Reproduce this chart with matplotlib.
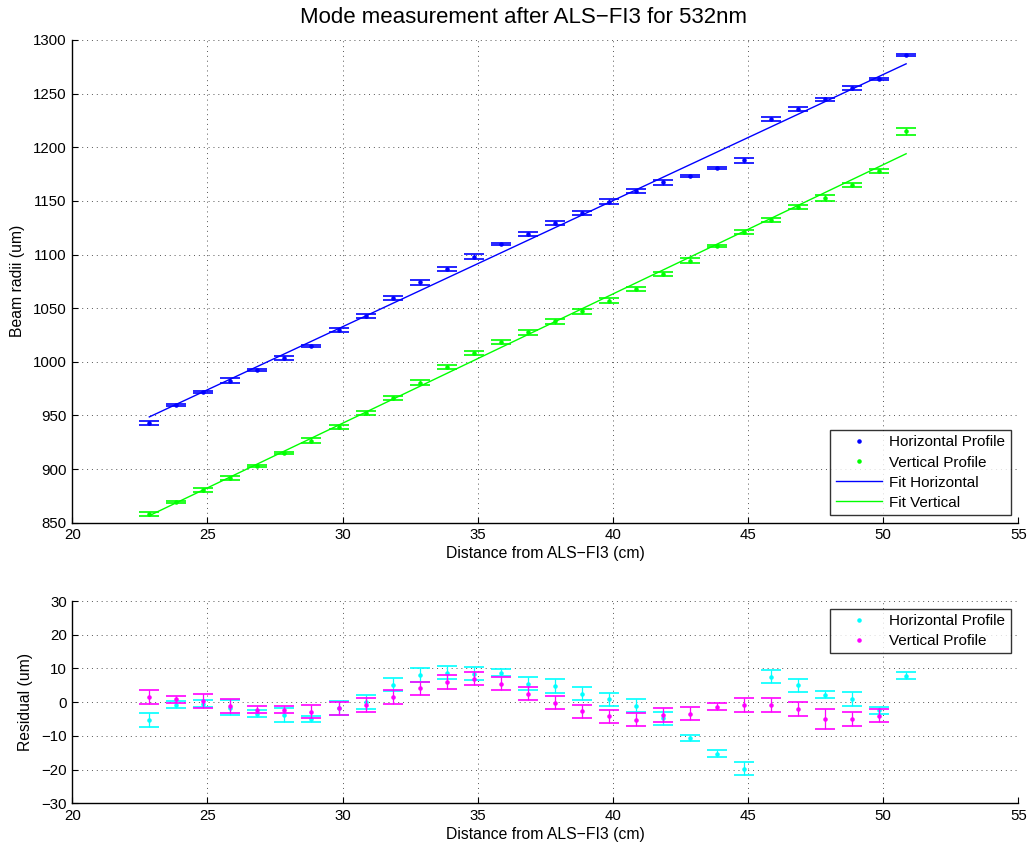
import numpy as np
import matplotlib.pyplot as plt

plt.rcParams['font.family'] = ['Liberation Sans', 'DejaVu Sans']

# measurement positions (cm from ALS-FI3)
dist = [22.85, 23.85, 24.85, 25.85, 26.85, 27.85, 28.85, 29.85, 30.85, 31.85,
        32.85, 33.85, 34.85, 35.85, 36.85, 37.85, 38.85, 39.85, 40.85, 41.85,
        42.85, 43.85, 44.85, 45.85, 46.85, 47.85, 48.85, 49.85, 50.85]

# beam radii (um)
horiz = [943.0, 959.8, 971.9, 982.4, 992.4, 1003.5, 1014.4, 1029.6, 1042.6, 1059.7,
         1074.0, 1086.7, 1098.1, 1110.2, 1118.9, 1129.5, 1138.7, 1149.3, 1159.2, 1167.2,
         1173.1, 1180.3, 1187.7, 1226.5, 1235.5, 1244.5, 1255.3, 1264.0, 1285.7]
vert = [858.0, 869.5, 880.7, 891.6, 903.0, 914.8, 926.6, 939.3, 952.4, 966.3,
        980.6, 994.9, 1008.2, 1018.4, 1027.4, 1037.6, 1046.9, 1057.1, 1068.0, 1081.6,
        1094.4, 1108.3, 1120.7, 1132.5, 1144.0, 1152.7, 1165.1, 1178.1, 1214.7]

horiz_err = [2.0, 1.0, 1.1, 2.1, 1.1, 2.1, 1.0, 2.1, 2.0, 2.0,
             2.0, 2.0, 2.0, 1.0, 2.0, 2.0, 2.0, 2.0, 2.0, 2.0,
             1.0, 1.0, 2.0, 2.0, 2.0, 1.0, 2.0, 1.0, 1.0]
vert_err = [2.0, 1.0, 2.0, 2.0, 1.0, 1.0, 2.0, 2.0, 2.0, 2.0,
            2.0, 2.0, 2.0, 2.0, 2.0, 2.0, 2.0, 2.0, 2.0, 2.0,
            2.0, 1.0, 2.0, 2.0, 2.0, 3.0, 2.0, 2.0, 3.0]

# residuals of the linear fits (um); last vertical point is left out of the fit
horiz_res = [-5.3, -0.7, -0.4, -1.6, -3.4, -3.7, -5.0, -1.8, 0.1, 5.2,
             8.0, 8.8, 8.5, 8.8, 5.5, 4.8, 2.5, 0.8, -1.0, -4.8,
             -10.6, -15.3, -19.7, 7.6, 5.0, 2.2, 1.0, -2.4, 7.9]
vert_res = [1.5, 0.8, 0.3, -1.2, -2.2, -2.2, -2.8, -1.8, -0.8, 1.6,
            4.1, 6.0, 7.0, 5.5, 2.5, -0.1, -2.7, -4.2, -5.2, -3.8,
            -3.4, -1.3, -0.8, -0.9, -2.0, -5.0, -5.0, -4.0]

x = np.array(dist)
h = np.array(horiz)
v = np.array(vert)
n_v = len(vert_res)

# fitted model = data - residual, as straight lines
ph = np.polyfit(x, h - np.array(horiz_res), 1)
pv = np.polyfit(x[:n_v], v[:n_v] - np.array(vert_res), 1)
xfit = np.array([x[0], x[-1]])

BLUE, GREEN, CYAN, MAGENTA = (0, 0, 1), (0, 1, 0), (0, 1, 1), (1, 0, 1)


def style_axes(ax, ylim, yticks):
    ax.set_xlim(20, 55)
    ax.set_ylim(*ylim)
    ax.set_xticks([20, 25, 30, 35, 40, 45, 50, 55])
    ax.set_yticks(yticks)
    ax.grid(True, color='#555555', linestyle=(0, (1, 4)), linewidth=0.7)
    ax.spines['top'].set_visible(False)
    ax.spines['right'].set_visible(False)
    ax.spines['left'].set_linewidth(1.0)
    ax.spines['bottom'].set_linewidth(1.0)
    ax.tick_params(direction='in', length=4, width=0.8, labelsize=10.8, pad=4)


def draw_errors(ax, xs, ys, errs, color, label):
    ax.errorbar(xs, ys, yerr=errs, fmt='none', ecolor=color, elinewidth=0.9,
                capsize=7, capthick=1.2)
    ax.plot(xs, ys, '.', color=color, markersize=4.5, label=label)


def add_legend(ax, loc):
    leg = ax.legend(loc=loc, fontsize=11, frameon=True, fancybox=False,
                    edgecolor='black', handlelength=3.0, borderpad=0.35,
                    labelspacing=0.4, borderaxespad=0.5, handletextpad=0.5)
    leg.get_frame().set_linewidth(1.0)


fig = plt.figure(figsize=(10.34, 8.5), dpi=100)
ax1 = fig.add_axes([0.0699, 0.3850, 0.9149, 0.5680])
ax2 = fig.add_axes([0.0699, 0.0549, 0.9149, 0.2380])

# top: beam radii with fits
draw_errors(ax1, x, h, horiz_err, BLUE, 'Horizontal Profile')
draw_errors(ax1, x, v, vert_err, GREEN, 'Vertical Profile')
ax1.plot(xfit, np.polyval(ph, xfit), color=BLUE, linewidth=1.0, label='Fit Horizontal')
ax1.plot(xfit, np.polyval(pv, xfit), color=GREEN, linewidth=1.0, label='Fit Vertical')
style_axes(ax1, (850, 1300), np.arange(850, 1301, 50))
ax1.set_title('Mode measurement after ALS\u2212FI3 for 532nm', fontsize=16, pad=12, x=0.477)
ax1.set_xlabel('Distance from ALS\u2212FI3 (cm)', fontsize=11.3, labelpad=3)
ax1.set_ylabel('Beam radii (um)', fontsize=11.3, labelpad=6)
add_legend(ax1, 'lower right')

# bottom: residuals
draw_errors(ax2, x, horiz_res, horiz_err, CYAN, 'Horizontal Profile')
draw_errors(ax2, x[:n_v], vert_res, vert_err[:n_v], MAGENTA, 'Vertical Profile')
style_axes(ax2, (-30, 30), np.arange(-30, 31, 10))
ax2.set_xlabel('Distance from ALS\u2212FI3 (cm)', fontsize=11.3, labelpad=3)
ax2.set_ylabel('Residual (um)', fontsize=11.3, labelpad=6)
add_legend(ax2, 'upper right')

fig.savefig('out.png', dpi=100)
